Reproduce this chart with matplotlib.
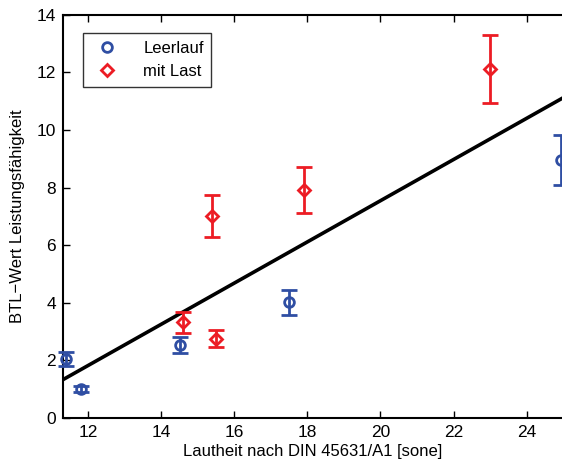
import matplotlib.pyplot as plt

plt.rcParams['font.family'] = ['Liberation Sans', 'DejaVu Sans']

# Leerlauf (blue circles)
leer_x = [11.4, 11.8, 14.5, 17.5, 24.95]
leer_y = [2.05, 1.0, 2.53, 4.02, 8.96]
leer_err = [0.23, 0.1, 0.28, 0.43, 0.88]

# mit Last (red diamonds)
last_x = [14.6, 15.5, 15.4, 17.9, 23.0]
last_y = [3.32, 2.76, 7.02, 7.93, 12.12]
last_err = [0.36, 0.3, 0.73, 0.8, 1.18]

# regression line endpoints
line_x = [11.3, 25.0]
line_y = [1.33, 11.12]

blue = "#2f4ea3"
red = "#ec1c24"

fig = plt.figure(figsize=(5.62, 4.62), dpi=100)
ax = fig.add_axes([0.1116, 0.095, 0.8904, 0.873])

ax.plot(line_x, line_y, color="black", lw=2.6, zorder=1)
ax.errorbar(leer_x, leer_y, yerr=leer_err, fmt="o", color=blue, mfc="none",
            mec=blue, mew=2, ms=7, elinewidth=2, capsize=5.5, capthick=2,
            label="Leerlauf", zorder=3, clip_on=False)
ax.errorbar(last_x, last_y, yerr=last_err, fmt="D", color=red, mfc="none",
            mec=red, mew=2, ms=6.5, elinewidth=2, capsize=5.5, capthick=2,
            label="mit Last", zorder=3)

ax.set_xlim(11.3, 25)
ax.set_ylim(0, 14)
ax.set_xticks([12, 14, 16, 18, 20, 22, 24])
ax.set_yticks([0, 2, 4, 6, 8, 10, 12, 14])
ax.tick_params(direction="in", top=True, right=False, labelsize=12.5, length=5,
               width=1, pad=5)
for s in ax.spines.values():
    s.set_linewidth(1.5)
ax.spines["right"].set_visible(False)

ax.set_xlabel("Lautheit nach DIN 45631/A1 [sone]", fontsize=12, labelpad=3)
ax.set_ylabel("BTL\u2212Wert Leistungsfähigkeit", fontsize=12, labelpad=8)

handles, labels = ax.get_legend_handles_labels()
handles = [h[0] for h in handles]
leg = ax.legend(handles, labels, loc="upper left", fontsize=12, fancybox=False,
                edgecolor="black", borderpad=0.45, handletextpad=1.2,
                bbox_to_anchor=(0.023, 0.975))
leg.get_frame().set_linewidth(1)

fig.savefig("out.png", dpi=100)
